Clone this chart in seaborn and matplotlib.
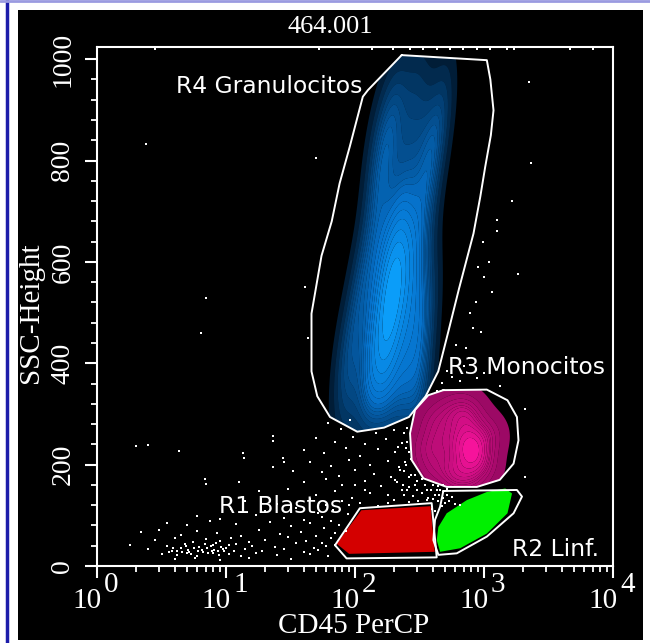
import numpy as np
import matplotlib
matplotlib.use("Agg")
import matplotlib.pyplot as plt
import seaborn as sns
from matplotlib.colors import LinearSegmentedColormap
from matplotlib.patches import Polygon, Rectangle
from matplotlib.lines import Line2D
from matplotlib.ticker import LogLocator, MultipleLocator, NullFormatter

# ---- gates (CD45 PerCP, SSC-Height) ----
r4_gate_x = [230, 1052, 1120, 1185, 1130, 1021, 935, 829, 640, 532, 442, 353, 262, 168, 104, 64, 51, 46, 46, 55, 66, 76, 91, 115, 126]
r4_gate_y = [1008, 998, 960, 899, 850, 787, 728, 656, 547, 465, 384, 335, 294, 273, 265, 294, 335, 384, 498, 612, 680, 755, 827, 926, 939]
r3_gate_x = [484, 1052, 1520, 1800, 1850, 1695, 1325, 880, 514, 339, 275, 267, 292, 370]
r3_gate_y = [347, 348, 327, 294, 248, 202, 170, 156, 156, 173, 209, 262, 308, 337]
r2_gate_x = [484, 1800, 1970, 1695, 1052, 615, 443, 405, 417, 457]
r2_gate_y = [148, 150, 137, 104, 58, 25, 22, 51, 91, 117]
r1_gate_x = [70, 109, 393, 430, 86]
r1_gate_y = [41, 114, 124, 17, 15]

# ---- populations ----
# granulocytes (density anchors)
r4_x = [90, 130, 180, 250, 330,
        80, 120, 170, 230, 320,
        85, 130, 180, 240, 320,
        100, 150, 200, 270, 350,
        110, 160, 210, 280, 370,
        120, 170, 230, 300,
        140, 200, 260, 350,
        160, 230, 320,
        180, 260, 380,
        220, 330,
        300,
        170, 200, 190, 150, 220,
        140, 400, 160, 450, 200, 500]
r4_y = [300, 300, 300, 300, 300,
        350, 350, 350, 350, 350,
        420, 420, 420, 420, 420,
        480, 480, 480, 480, 480,
        540, 540, 540, 540, 540,
        600, 600, 600, 600,
        660, 660, 660, 660,
        730, 730, 730,
        810, 810, 810,
        900, 900,
        970,
        450, 520, 580, 400, 600,
        780, 790, 860, 870, 930, 940]
# monocytes (density anchors)
r3_x = [400, 500, 650, 800, 350, 450, 600, 750, 900, 1100, 400, 550, 700, 850, 1000, 600, 800, 700, 750, 850]
r3_y = [280, 300, 310, 300, 230, 240, 250, 240, 250, 260, 190, 190, 200, 210, 200, 170, 170, 280, 230, 230]
# blasts and lymphocytes (outline of the solid clouds)
r1_pop_x = [72, 112, 385, 415, 90]
r1_pop_y = [44, 110, 118, 28, 24]
r2_pop_x = [430, 443, 514, 736, 1052, 1462, 1649, 1520, 1052, 653, 457]
r2_pop_y = [51, 77, 104, 130, 146, 153, 143, 104, 64, 35, 28]

# ungated events
other_x = [2.4, 50, 7.0, 6.4, 41, 43.6, 2240, 2320, 1660, 1840, 1250, 1250, 2070, 2070, 1330,
           900, 1000, 1100, 820, 950, 610, 720, 780, 860, 700, 760, 880, 1000, 650, 560, 470, 430, 520, 980, 1150,
           2.8, 53, 135, 196, 265, 337, 434, 546, 690, 880, 1110, 1510, 1700, 4680, 7000,
           62, 78, 92, 145, 200, 255,
           50, 70, 97, 120, 175, 230,
           40, 58, 85, 110, 150, 205, 250,
           45, 65, 90, 130, 180, 220, 270,
           55, 75, 100, 140, 190, 240, 290, 330,
           40, 60, 80, 120, 160, 210, 260, 300, 350, 390,
           18, 30, 50, 70, 95, 130, 180, 230, 280, 330, 370, 420, 460,
           14, 25, 45, 60, 80, 110, 150, 200, 260, 310, 360, 400, 440, 480, 520, 560,
           11, 20, 35, 52, 68, 88, 470, 500, 540, 600, 650,
           6, 9, 17, 28, 40, 55, 65, 75, 85, 395, 420,
           3.5, 5, 7.5, 12, 22, 32, 45, 58, 70,
           2.2, 3, 4.5, 6, 8.5, 13, 18, 26, 38, 50, 65,
           2.8, 4, 5.5, 7, 9, 11, 15, 20, 30, 42, 55,
           1.8, 3.5, 4.8, 6.2, 8, 10, 12, 16, 24, 35, 48, 60,
           2.5, 3.8, 4.5, 5.2, 6.5, 7.8, 9.5, 11.5, 14, 19, 28, 40, 52,
           3.2, 4.2, 5, 6, 7.2, 8.8, 10.5, 13, 17, 25, 45, 62,
           4, 5.8, 9, 15, 32,
           4.2, 4.6, 5.1, 5.6, 6.1, 6.6, 7.1, 7.6, 8.1, 8.6, 9.1, 4.9, 5.4, 6.9, 7.9, 8.4, 9.6, 3.6, 3.9, 10.5,
           2.0, 2.5, 4.3, 13.7, 23, 23, 28, 33, 7.0, 12.7, 6.9, 27.8, 13.6, 23,
           240, 255, 215, 262, 245, 225, 260, 205, 235, 255, 400, 440, 480, 370, 450, 430, 360, 520, 300,
           250, 270, 290, 240, 180, 120, 100, 90]
other_y = [832, 805, 529, 459, 550, 450, 955, 795, 720, 576, 682, 660, 310, 175, 355,
           590, 570, 600, 470, 462, 437, 430, 500, 520, 395, 410, 370, 380, 365, 372, 362, 345, 385, 640, 540,
           1021, 1021, 1021, 1021, 1021, 1021, 1021, 1021, 1021, 1021, 1021, 1021, 1021, 1021, 1021,
           282, 270, 288, 262, 268, 272,
           252, 245, 255, 240, 250, 243,
           228, 222, 232, 218, 230, 225, 232,
           205, 198, 210, 200, 208, 195, 212,
           185, 178, 190, 182, 176, 188, 180, 172,
           165, 172, 160, 168, 158, 165, 155, 168, 160, 150,
           148, 152, 140, 148, 135, 145, 140, 150, 138, 145, 135, 140, 150,
           128, 122, 132, 120, 128, 125, 118, 130, 126, 128, 130, 132, 128, 135, 140, 136,
           112, 108, 115, 105, 110, 102, 118, 125, 128, 122, 120,
           98, 92, 100, 95, 90, 96, 88, 80, 70, 112, 108,
           85, 80, 88, 82, 86, 78, 84, 74, 66,
           68, 72, 62, 70, 65, 60, 72, 64, 68, 60, 56,
           52, 55, 48, 54, 50, 56, 47, 52, 58, 50, 46,
           42, 40, 44, 38, 42, 36, 44, 40, 38, 45, 36, 40,
           33, 30, 35, 28, 32, 30, 34, 29, 33, 30, 34, 28, 32,
           24, 22, 26, 20, 25, 22, 24, 20, 25, 22, 24, 20,
           14, 16, 12, 15, 14,
           30, 27, 32, 36, 30, 27, 35, 40, 32, 29, 38, 40, 24, 44, 26, 46, 30, 27, 35, 42,
           237, 239, 226, 213, 247, 195, 205, 188, 161, 166, 171, 214, 223, 256,
           262, 245, 235, 225, 205, 190, 175, 170, 160, 150, 160, 158, 160, 135, 140, 150, 150, 152, 150,
           200, 180, 160, 140, 125, 150, 160, 120]

x_decades = [1, 10, 100, 1000, 10000]
x_exponents = ["0", "1", "2", "3", "4"]
gate_labels = ["R4 Granulocitos", "R3 Monocitos", "R1 Blastos", "R2 Linf."]
gate_label_x = [4.1, 526, 8.9, 1660]
gate_label_y = [947, 392, 118, 32]

sns.set_theme(style="dark", rc={"axes.facecolor": "black"})
plt.rcParams["font.family"] = ["Liberation Serif", "DejaVu Serif"]

fig = plt.figure(figsize=(6.5, 6.43), dpi=100)
fig.patch.set_facecolor("white")
fig.add_artist(Rectangle((18 / 650, 3 / 643), 625 / 650, 630 / 643,
                         transform=fig.transFigure, facecolor="black", edgecolor="none", zorder=-5))
fig.add_artist(Line2D([0.01, 0.01], [0, 1], transform=fig.transFigure, color="#1c1caa", lw=2.5))
fig.add_artist(Line2D([0, 1], [0.998, 0.998], transform=fig.transFigure, color="#9a9ae0", lw=2))

ax = fig.add_axes([97 / 650, 77 / 643, 516 / 650, 519 / 643])
ax.set_facecolor("black")
ax.set_xscale("log")

blue_cmap = LinearSegmentedColormap.from_list("gran", [(0.02, 0.45, 0.85, 0.2), (0.03, 0.56, 1, 0.8),
                                                       (0.05, 0.64, 1, 1)])
pink_cmap = LinearSegmentedColormap.from_list("mono", [(0.85, 0.05, 0.55, 0.7), (1, 0.08, 0.63, 1)])

# granulocytes
sns.kdeplot(x=r4_x, y=r4_y, ax=ax, fill=True, cmap=blue_cmap, levels=18, thresh=0.05,
            bw_adjust=0.85, log_scale=(True, False), antialiased=True)
ax.collections[-1].set_clip_path(Polygon(np.column_stack([r4_gate_x, r4_gate_y]), transform=ax.transData))

# monocytes
sns.kdeplot(x=r3_x, y=r3_y, ax=ax, fill=True, cmap=pink_cmap, levels=12, thresh=0.02,
            bw_adjust=1.0, log_scale=(True, False), antialiased=True)
ax.collections[-1].set_clip_path(Polygon(np.column_stack([r3_gate_x, r3_gate_y]), transform=ax.transData))

# blasts / lymphocytes
ax.fill(r1_pop_x, r1_pop_y, color="#d40000", lw=0, zorder=2)
ax.fill(r2_pop_x, r2_pop_y, color="#00f000", lw=0, zorder=2)

# other events
sns.scatterplot(x=other_x, y=other_y, ax=ax, color="white", marker="s", s=4, linewidth=0, zorder=3)

# gate outlines
for gx, gy in [(r4_gate_x, r4_gate_y), (r3_gate_x, r3_gate_y), (r2_gate_x, r2_gate_y), (r1_gate_x, r1_gate_y)]:
    ax.plot(gx + gx[:1], gy + gy[:1], color="white", lw=1.4, zorder=4)

for lab, lx, ly in zip(gate_labels, gate_label_x, gate_label_y):
    ax.text(lx, ly, lab, color="white", fontsize=16.8, family="DejaVu Sans", va="center", ha="left", zorder=5)

ax.set_xlim(1, 1e4)
ax.set_ylim(0, 1024)

for sp in ax.spines.values():
    sp.set_color("white")
    sp.set_linewidth(1.5)

ax.xaxis.set_major_locator(LogLocator(base=10, numticks=10))
ax.xaxis.set_minor_locator(LogLocator(base=10, subs=np.arange(2, 10), numticks=10))
ax.xaxis.set_major_formatter(NullFormatter())
ax.xaxis.set_minor_formatter(NullFormatter())
ax.yaxis.set_major_locator(MultipleLocator(200))
ax.yaxis.set_minor_locator(MultipleLocator(40))
ax.tick_params(axis="both", which="major", direction="out", length=8.5, width=1.5, color="white",
               labelcolor="white", bottom=True, left=True)
ax.tick_params(axis="both", which="minor", direction="out", length=4.5, width=1.3, color="white",
               bottom=True, left=True)
ax.tick_params(axis="y", pad=7, labelsize=20)
for t in ax.get_yticklabels():
    t.set_rotation(90)
    t.set_va("center")

for d, e in zip(x_decades, x_exponents):
    ax.annotate("10", xy=(d, 0), xycoords=("data", "axes fraction"), xytext=(3.6, -30),
                textcoords="offset points", ha="right", va="baseline", color="white",
                fontsize=21, annotation_clip=False)
    ax.annotate(e, xy=(d, 0), xycoords=("data", "axes fraction"), xytext=(5, -19),
                textcoords="offset points", ha="left", va="baseline", color="white",
                fontsize=21, annotation_clip=False)

ax.set_xlabel("CD45 PerCP", color="white", fontsize=21)
ax.xaxis.set_label_coords(0.498, -0.09)
ax.set_ylabel("SSC-Height", color="white", fontsize=21)
ax.yaxis.set_label_coords(-0.103, 0.487)
ax.text(0.453, 1.0385, "464.001", transform=ax.transAxes, ha="center", va="center",
        color="white", fontsize=19)
ax.grid(False)

fig.savefig("out.png", dpi=100, facecolor=fig.get_facecolor())
